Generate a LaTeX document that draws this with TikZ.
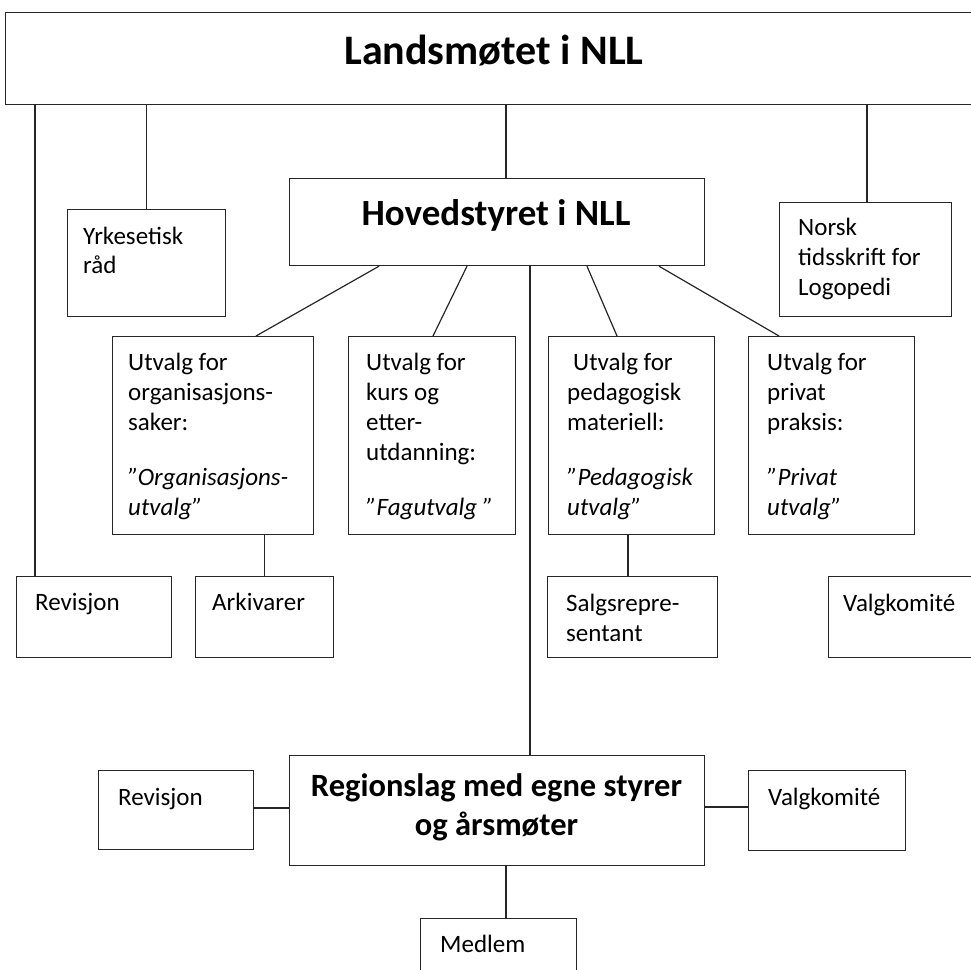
\documentclass[tikz,border=0pt]{standalone}
\usepackage{fontspec}
\setmainfont{Carlito}
\newcommand\fst{\rule{0pt}{20pt}}
\tikzset{
  box/.style={draw=black!85, line width=1.2pt, inner sep=0pt, anchor=north west},
  conn/.style={draw=black!85, line width=1.2pt},
  txt/.style={anchor=north west, inner sep=0pt, align=left, font=\fontsize{25}{30}\selectfont},
  one/.style={anchor=base west, inner sep=0pt, font=\fontsize{25}{30}\selectfont},
}
\begin{document}
\begin{tikzpicture}[x=1pt,y=-1pt]
\useasboundingbox (0,0) rectangle (971,969);
\clip (0,0) rectangle (971,969);
% boxes
\node[box, minimum width=1000pt, minimum height=92pt] (lands) at (5,12) {};
\node[box, minimum width=158pt, minimum height=107pt] (yrk) at (67,209) {};
\node[box, minimum width=415pt, minimum height=87pt] (hov) at (289,178) {};
\node[box, minimum width=172pt, minimum height=114pt] (norsk) at (779,202) {};
\node[box, minimum width=201pt, minimum height=198pt] (u1) at (112,336) {};
\node[box, minimum width=167pt, minimum height=198pt] (u2) at (348,336) {};
\node[box, minimum width=166pt, minimum height=198pt] (u3) at (548,336) {};
\node[box, minimum width=166pt, minimum height=198pt] (u4) at (748,336) {};
\node[box, minimum width=155pt, minimum height=81pt] (rev1) at (16,576) {};
\node[box, minimum width=138pt, minimum height=81pt] (ark) at (195,576) {};
\node[box, minimum width=170pt, minimum height=81pt] (salg) at (547,576) {};
\node[box, minimum width=180pt, minimum height=81pt] (valg1) at (828,576) {};
\node[box, minimum width=415pt, minimum height=110pt] (reg) at (289,755) {};
\node[box, minimum width=155pt, minimum height=79pt] (rev2) at (98,770) {};
\node[box, minimum width=157pt, minimum height=80pt] (valg2) at (748,770) {};
\node[box, minimum width=156pt, minimum height=80pt] (medl) at (420,918) {};
% texts
\node[anchor=center, inner sep=0pt, font=\fontsize{42}{50}\selectfont\bfseries] (tl) at (494,51) {Landsmøtet i NLL};
\node[anchor=base, inner sep=0pt, font=\fontsize{37}{44}\selectfont\bfseries] (th) at (496,225) {Hovedstyret i NLL};
\node[anchor=north, inner sep=0pt, align=center, font=\fontsize{32.5}{39}\selectfont\bfseries] (tr) at (496.5,770) {\rule{0pt}{26pt}Regionslag med egne styrer\\og årsmøter};
\node[txt] (ty) at (83,224) {\fst Yrkesetisk\\[-1pt]råd};
\node[txt] (tn) at (798,215) {\fst Norsk\\tidsskrift for\\Logopedi};
\node[txt] (t1) at (128,350) {\fst Utvalg for\\organisasjons-\\saker:\\[25pt]\itshape ”Organisasjons-\\\itshape utvalg”};
\node[txt] (t2) at (366,350) {\fst Utvalg for\\kurs og\\etter-\\utdanning:\\[25pt]\itshape ”Fagutvalg ”};
\node[txt] (t3) at (567,350) {\fst\hspace{6pt}Utvalg for\\pedagogisk\\materiell:\\[25pt]\itshape ”Pedagogisk\\\itshape utvalg”};
\node[txt] (t4) at (767,350) {\fst Utvalg for\\privat\\praksis:\\[25pt]\itshape ”Privat\\\itshape utvalg”};
\node[one] (tr1) at (35,610) {Revisjon};
\node[one] (ta) at (212,610) {Arkivarer};
\node[txt] (ts) at (566,591) {\fst Salgsrepre-\\sentant};
\node[one] (tv1) at (843,611) {Valgkomité};
\node[one] (tr2) at (118,805) {Revisjon};
\node[one] (tv2) at (768,805) {Valgkomité};
\node[one] (tm) at (440,952) {Medlem};
% connectors
\coordinate (c1) at ([xshift=19pt]rev1.north west);
\draw[conn] (c1) -- (c1 |- lands.south);
\draw[conn] (yrk.north) -- (yrk.north |- lands.south);
\coordinate (c2) at ([xshift=217pt]hov.north west);
\draw[conn] (c2) -- (c2 |- lands.south);
\coordinate (c3) at ([xshift=88pt]norsk.north west);
\draw[conn] (c3) -- (c3 |- lands.south);
\draw[conn] ([xshift=90pt]hov.south west) -- ([xshift=144pt]u1.north west);
\draw[conn] ([xshift=178pt]hov.south west) -- ([xshift=85pt]u2.north west);
\draw[conn] ([xshift=298pt]hov.south west) -- ([xshift=69pt]u3.north west);
\draw[conn] ([xshift=370pt]hov.south west) -- ([xshift=31pt]u4.north west);
\coordinate (c4) at ([xshift=241pt]hov.south west);
\draw[conn] (c4) -- (c4 |- reg.north);
\draw[conn] (ark.north) -- (ark.north |- u1.south);
\coordinate (c5) at ([xshift=81pt]salg.north west);
\draw[conn] (c5) -- (c5 |- u3.south);
\coordinate (c6) at ([yshift=-38pt]rev2.north east);
\draw[conn] (c6) -- (c6 -| reg.west);
\coordinate (c7) at ([yshift=-37pt]valg2.north west);
\draw[conn] (c7) -- (c7 -| reg.east);
\coordinate (c8) at ([xshift=86pt]medl.north west);
\draw[conn] (c8) -- (c8 |- reg.south);
\end{tikzpicture}
\end{document}
